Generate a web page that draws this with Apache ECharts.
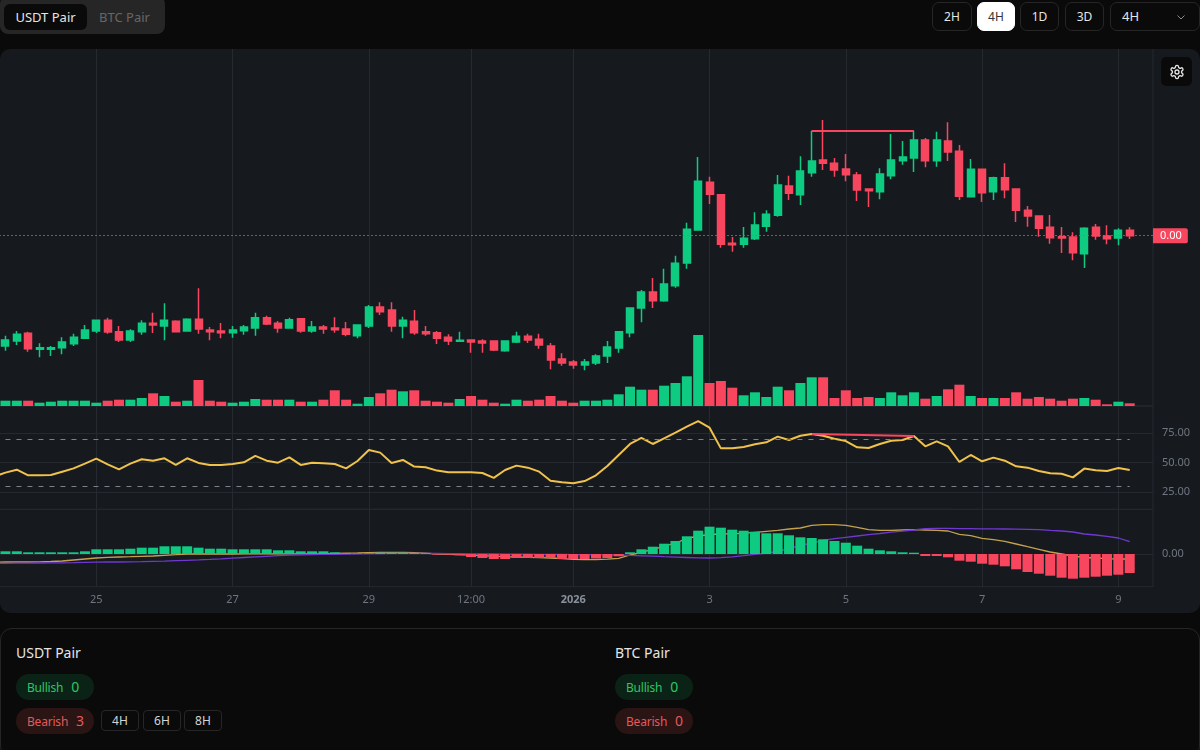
<!DOCTYPE html>
<html>
<head>
<meta charset="utf-8">
<title>Divergence chart</title>
<script src="https://cdn.jsdelivr.net/npm/echarts@6/dist/echarts.min.js"></script>
<style>
    html, body { margin: 0; padding: 0; background: #0a0a0a; width: 1200px; height: 750px; overflow: hidden; font-family: "Noto Sans", sans-serif; }
    .abs { position: absolute; box-sizing: border-box; }
    .tabs { left: 0; top: -4px; width: 165px; height: 38px; background: #262626; border-radius: 8px; }
    .tab { top: 4px; height: 26px; line-height: 26px; text-align: center; font-size: 13px; border-radius: 6px; }
    .btn { top: 2px; height: 29px; line-height: 27px; text-align: center; font-size: 12px; color: #e5e5e5; border: 1px solid #262626; border-radius: 7px; }
    #panel { left: 0; top: 49px; width: 1200px; height: 564px; background: #161a1f; border-radius: 10px; overflow: hidden; }
    /* 1px past the top and left of the panel so only the inner separators show */
    #main { left: -1px; top: -1px; width: 1201px; height: 565px; }
    .gear { left: 1161px; top: 57px; width: 31px; height: 29px; background: #0a0a0a; border-radius: 5px; display: flex; align-items: center; justify-content: center; }
    .card { left: 0; top: 628px; width: 1200px; height: 130px; border: 1px solid #262626; border-radius: 12px; }
    .title { font-size: 14px; color: #e5e5e5; top: 643px; line-height: 20px; }
    .pill { height: 26px; width: 78px; line-height: 25px; border-radius: 13px; font-size: 12px; letter-spacing: -0.2px; padding-left: 11px; white-space: nowrap; }
    .pill span { font-size: 14px; margin-left: 5px; letter-spacing: 0; }
    .up { background: #0b2316; color: #2fc465; top: 674px; }
    .down { background: #2a1414; color: #e35a5a; top: 708px; }
    .chip { top: 710px; height: 21px; width: 38px; line-height: 19px; text-align: center; font-size: 12px; color: #d4d4d4; border: 1px solid #262626; border-radius: 4px; }
</style>
</head>
<body>
<div class="abs tabs"></div>
<div class="abs tab" style="left:4px;width:83px;background:#0a0a0a;color:#e5e5e5">USDT Pair</div>
<div class="abs tab" style="left:87px;width:75px;color:#666">BTC Pair</div>

<div class="abs btn" style="left:932px;width:40px">2H</div>
<div class="abs btn" style="left:977px;width:38px;background:#fff;color:#333;border-color:#fff">4H</div>
<div class="abs btn" style="left:1020px;width:39px">1D</div>
<div class="abs btn" style="left:1065px;width:39px">3D</div>
<div class="abs btn" style="left:1110px;width:90px;text-align:left;padding-left:11px;font-size:13px">4H
    <svg style="position:absolute;left:64px;top:8px" width="12" height="12" viewBox="0 0 24 24" fill="none" stroke="#8a8a8a" stroke-width="2"><path d="M5 9l7 7 7-7"/></svg>
</div>

<div id="panel" class="abs"><div id="main" class="abs"></div></div>
<div class="abs gear">
    <svg width="16" height="16" viewBox="0 0 24 24" fill="none" stroke="#e5e5e5" stroke-width="2" stroke-linecap="round" stroke-linejoin="round"><path d="M12.22 2h-.44a2 2 0 0 0-2 2v.18a2 2 0 0 1-1 1.73l-.43.25a2 2 0 0 1-2 0l-.15-.08a2 2 0 0 0-2.73.73l-.22.38a2 2 0 0 0 .73 2.73l.15.1a2 2 0 0 1 1 1.72v.51a2 2 0 0 1-1 1.74l-.15.09a2 2 0 0 0-.73 2.73l.22.38a2 2 0 0 0 2.73.73l.15-.08a2 2 0 0 1 2 0l.43.25a2 2 0 0 1 1 1.73V20a2 2 0 0 0 2 2h.44a2 2 0 0 0 2-2v-.18a2 2 0 0 1 1-1.73l.43-.25a2 2 0 0 1 2 0l.15.08a2 2 0 0 0 2.73-.73l.22-.39a2 2 0 0 0-.73-2.73l-.15-.08a2 2 0 0 1-1-1.74v-.5a2 2 0 0 1 1-1.74l.15-.09a2 2 0 0 0 .73-2.73l-.22-.38a2 2 0 0 0-2.73-.73l-.15.08a2 2 0 0 1-2 0l-.43-.25a2 2 0 0 1-1-1.73V4a2 2 0 0 0-2-2z"/><circle cx="12" cy="12" r="3"/></svg>
</div>

<div class="abs card"></div>
<div class="abs title" style="left:16px">USDT Pair</div>
<div class="abs pill up" style="left:16px">Bullish <span>0</span></div>
<div class="abs pill down" style="left:16px">Bearish <span>3</span></div>
<div class="abs chip" style="left:101px">4H</div>
<div class="abs chip" style="left:143px">6H</div>
<div class="abs chip" style="left:184px">8H</div>
<div class="abs title" style="left:615px">BTC Pair</div>
<div class="abs pill up" style="left:615px">Bullish <span>0</span></div>
<div class="abs pill down" style="left:615px">Bearish <span>0</span></div>

<script>
var upColor = '#0ecb81'
var downColor = '#f9465f'
var gridColor = '#252930'

var opens = [
    60, 65, 72.7, 56.7, 56.7, 58.3, 62.3, 67.7, 75, 85.7,
    74.3, 66, 74.3, 82.7, 80, 84.7, 75, 86.7, 76, 75,
    73.3, 75.3, 78, 88.3, 82.7, 78, 87.3, 75, 79, 78,
    77, 70.3, 80, 99, 96, 80, 84.7, 74.3, 73.3, 68.7,
    64.7, 66, 65, 65, 55.3, 64, 69.7, 66.7, 60, 47,
    44, 41, 43, 50, 58, 73.3, 98, 114, 105.3, 120.3,
    143, 176, 223.7, 211.3, 162.7, 161.7, 167.3, 179.7, 190.7, 220,
    211.3, 233.3, 246, 242.7, 237, 231, 217, 214.3, 230.3, 245.3,
    248, 266, 245.3, 265, 254.7, 209.3, 236.7, 214.3, 228.3, 217,
    195.7, 190, 178.7, 169.3, 169, 152.3, 178.7, 170, 168, 175.7
]
var closes = [
    66, 71.7, 57.3, 58.3, 58.3, 64, 68.7, 76, 85.7, 74,
    66, 75, 82.7, 81, 85.7, 74.3, 86.7, 77, 74.3, 73.3,
    76, 79, 88.3, 82, 78, 86.3, 75, 79, 77, 76.3,
    71.7, 81, 99, 94.3, 80, 85.7, 73.3, 72.3, 67.7, 65,
    65.7, 64, 63, 56, 65, 69.7, 66, 61, 46, 43,
    41, 44, 50, 59, 74.3, 98, 114, 105.3, 122, 142.7,
    176.7, 224.7, 211.7, 161.7, 161.3, 167.7, 181, 191.7, 221, 212.7,
    235, 245, 242.7, 236, 231.3, 216, 215.3, 232, 246, 249,
    266, 245.3, 266, 254, 209.7, 236.7, 213.3, 228.3, 216.3, 195.7,
    190, 177.7, 168.3, 168, 153.3, 177.7, 170, 167.3, 175.7, 170.3
]
var lows = [
    55.3, 61, 54.3, 48.7, 50, 51.7, 60, 67, 73, 72.3,
    64, 64, 71.3, 73, 65.7, 73.7, 74.7, 72.3, 65.7, 67.7,
    68.3, 71.3, 70.3, 81, 73.3, 77.7, 73.3, 73.3, 72.3, 73.3,
    69.7, 67.7, 78, 91, 74.3, 67.7, 71.3, 70.3, 62, 61,
    64, 53.3, 53.3, 55, 54.3, 63, 63, 57.3, 36.7, 40.3,
    37.3, 35.7, 41, 43, 53.3, 68.7, 83.7, 98, 104.3, 118.3,
    137.3, 176, 202, 158.3, 154.3, 158.3, 166, 174.3, 189.3, 206,
    201, 229.3, 236, 229.3, 224.7, 205, 199, 206.7, 226.7, 241.3,
    234, 238.7, 239.3, 245, 206, 209.3, 204, 206, 207.7, 184,
    179.3, 169.3, 162.3, 153, 145.7, 138, 166.3, 161.7, 160.7, 167
]
var highs = [
    70.3, 75, 74.3, 62.7, 60, 68.7, 72.3, 81, 85.7, 88.3,
    80, 76.7, 85.7, 93.3, 102.7, 85.7, 87.7, 117.7, 79, 83,
    80, 81, 93.3, 90.3, 85, 88.3, 87.7, 85, 81, 88.7,
    84, 81, 101, 103.7, 103.7, 89.3, 96, 80, 75, 71.7,
    74.3, 66.7, 66.7, 65, 65, 74.3, 72.3, 72.3, 63, 52.7,
    46, 47, 51.7, 65, 74.3, 98, 116, 128, 137.3, 150.3,
    183.3, 249, 229.3, 211.3, 169, 179, 193.7, 195.7, 231, 230.3,
    249.7, 275.3, 286, 248, 252, 234, 217, 237.7, 272, 265,
    275.3, 268, 274.3, 283.7, 261, 247, 236.7, 229.3, 242.7, 217,
    200, 190, 191, 179, 173.7, 178.7, 182, 180.7, 177.7, 178.7
]
var volumes = [
    5.3, 5.3, 5.3, 3.3, 4.3, 5.3, 5.3, 5.3, 3.3, 5.3,
    6.3, 6.3, 8, 12.7, 10, 4.3, 5.3, 26, 5.3, 4.3,
    3.3, 4.3, 7, 6.3, 6.3, 6.3, 4.3, 4.3, 6.3, 15.7,
    6.3, 2.3, 9, 12.7, 16.3, 14.7, 15.7, 5.3, 4.3, 3.3,
    7, 10, 6.3, 3.3, 2.3, 6.3, 5.3, 6.3, 10, 5.3,
    3.3, 5.3, 5.3, 6.3, 11.7, 19.3, 16.3, 16.3, 20.3, 23,
    29.7, 71, 23, 25, 18.3, 10.7, 13.7, 9, 19.3, 15.7,
    23, 28.7, 28.7, 8, 15.7, 8, 9, 8, 13.7, 10.7,
    13.7, 7.3, 10, 16.7, 21.3, 10, 8, 8, 8, 13.7,
    7.3, 9, 7.3, 5.3, 7.3, 8, 6.3, 1.7, 4.3, 2.7
]
var rsiValues = [
    41.6, 44.1, 39.3, 39.3, 39.6, 42.4, 45.2, 49.2, 53.4, 48.6,
    44.4, 49.2, 52.9, 51.7, 53.7, 48.1, 53.7, 49.8, 48.1, 48.1,
    48.9, 50.3, 55.7, 51.7, 50, 54.5, 48.1, 50, 49.5, 48.9,
    45.2, 51.4, 60.7, 58.5, 49.8, 52.3, 46.7, 46.1, 43.3, 41.9,
    41.9, 41.9, 41.3, 37.1, 43.8, 47.5, 45.8, 42.4, 34.8, 33.4,
    32.6, 34.5, 39.3, 47.2, 56.5, 65.8, 70.9, 65.8, 70.6, 75.4,
    80.4, 85.2, 79.6, 62.1, 62.1, 63.3, 65.5, 67.2, 72, 69.2,
    72.8, 74.2, 72.8, 70.3, 68.3, 63, 62.4, 65.8, 68.6, 69.2,
    72.5, 63.8, 68, 63.8, 50.6, 56.5, 51.2, 54.3, 51.7, 46.9,
    45.8, 43, 41, 40.7, 37.6, 45, 43.6, 43, 45.5, 43.8
]
var macdHist = [
    2.7, 2.7, 1.7, 1.7, 1.7, 1.7, 1.7, 2.7, 4.7, 4.7,
    4.7, 5.3, 6.3, 6.3, 7.7, 7.7, 7.7, 6.3, 5.3, 5.3,
    4.7, 4.7, 4.7, 4.7, 3.7, 3.7, 2.7, 2.7, 2.7, 1.7,
    1, 0.7, 0.7, 1.3, 1.3, 1.3, 1, 1, -0.5, -0.7,
    -1.3, -3, -4, -5, -5, -4, -4, -4, -4, -5,
    -5, -5, -4.5, -4, -2.3, 1.7, 4.7, 7.3, 10.3, 13,
    17.7, 23.3, 27.3, 26.3, 24.3, 23.3, 22.3, 20.7, 20.7, 18.7,
    16.7, 16, 14.7, 13, 11.3, 8.3, 5.3, 3.7, 2.7, 1.7,
    1.3, -2, -2, -3.3, -6.7, -7.7, -9.7, -10.7, -12.3, -15.3,
    -18, -19.7, -21.7, -23.7, -24.7, -23.7, -22.7, -21.7, -20.7, -19
]
var macdLine = [
    -8, -8, -8, -7.8, -7.5, -7, -6, -5, -4, -3.4,
    -3, -2.7, -2.3, -2, -1.3, -0.7, 0, 0, 0, 0,
    0, 0.1, 0.1, 0.1, 0.1, 0.2, 0.2, 0.2, 0.2, 0.5,
    0.8, 1, 1.3, 1.5, 1.6, 1.7, 1.4, 0.8, 0, -0.3,
    -0.7, -1.2, -1.7, -2.2, -2.7, -3, -3.3, -3.6, -4, -4.7,
    -5.3, -5.6, -5.7, -5.2, -4.3, -1, 1.7, 4.7, 7.7, 11,
    15.3, 18, 19.5, 20, 20.3, 20.7, 21.7, 22.7, 23.7, 25,
    26, 28.7, 29.3, 29.3, 28.7, 26.7, 24.3, 23.7, 23.7, 24,
    24.3, 24, 23.7, 23, 19.7, 18.3, 15.7, 14.3, 12.7, 10,
    7.3, 4.7, 2, 0, -2, -3.5, -4, -4.7, -5, -5
]
var signalLine = [
    -9.3, -9.2, -9.1, -9, -8.9, -8.8, -8.6, -8.3, -8.1, -8,
    -8, -7.9, -7.7, -7.4, -7.1, -6.7, -6.3, -5.9, -5.4, -4.8,
    -4.1, -3.5, -2.9, -2.3, -1.7, -1.2, -0.8, -0.6, -0.4, -0.3,
    -0.1, 0.1, 0.3, 0.5, 0.6, 0.7, 0.7, 0.6, 0.5, 0.4,
    0.3, 0.2, 0.1, 0, -0.1, -0.2, -0.2, -0.3, -0.4, -0.5,
    -0.6, -0.7, -0.8, -0.9, -1, -1.4, -1.8, -2.2, -2.7, -3.1,
    -3.5, -3.9, -4, -3.6, -2.8, -1.7, -0.4, 0.8, 2.5, 5.5,
    8.5, 11, 13.5, 15.3, 16.7, 18, 19.3, 20.5, 21.8, 22.8,
    24, 25.3, 25.7, 25.6, 25.4, 25.3, 25.2, 25.1, 25, 24.9,
    24.7, 24.4, 23.6, 23, 22, 20, 19, 17.7, 16, 12.3
]
// the indicator lines come in from one bar before the first candle
var rsiBefore = 38.2
var macdBefore = -8.2
var signalBefore = -9.4

var tickIdx = [8, 20, 32, 41, 50, 62, 74, 86, 98]
var tickLabels = ['25', '27', '29', '12:00', '2026', '3', '5', '7', '9']
var rsiTicks = [25, 50, 75]
var rsiBands = [70, 30]
// divergence between two swing highs
var divFrom = 71
var divTo = 80
var divPrice = 275
var lastLabel = '0.00'

var candleData = []
var volumeData = []
var rsiData = [[-1, rsiBefore]]
var histData = []
var macdData = [[-1, macdBefore]]
var signalData = [[-1, signalBefore]]
for (var i = 0; i < opens.length; i++) {
    candleData.push([i, opens[i], closes[i], lows[i], highs[i]])
    volumeData.push({ value: [i, volumes[i]], itemStyle: { color: closes[i] >= opens[i] ? upColor : downColor } })
    rsiData.push([i, rsiValues[i]])
    histData.push({ value: [i, macdHist[i]], itemStyle: { color: macdHist[i] >= 0 ? upColor : downColor } })
    macdData.push([i, macdLine[i]])
    signalData.push([i, signalLine[i]])
}

var xMin = -0.568
var xMax = 101.05

function xAxisFor(gridIndex, withLabels) {
    return {
        type: 'value',
        gridIndex: gridIndex,
        min: xMin,
        max: xMax,
        axisLine: { show: false },
        axisTick: { show: false, customValues: tickIdx },
        splitLine: { show: true, lineStyle: { color: gridColor, width: 1 } },
        axisLabel: {
            show: withLabels,
            customValues: tickIdx,
            margin: 8,
            color: '#6f7680',
            fontSize: 11,
            fontFamily: 'Noto Sans',
            formatter: function (v) {
                var label = tickLabels[tickIdx.indexOf(v)]
                return label === '2026' ? '{b|' + label + '}' : label
            },
            rich: { b: { fontWeight: 'bold', color: '#8a909a', fontSize: 11, fontFamily: 'Noto Sans' } }
        }
    }
}

var chart = echarts.init(document.getElementById('main'), null, { renderer: 'canvas' })
chart.setOption({
    animation: false,
    backgroundColor: 'transparent',
    grid: [
        { left: 0, top: 0, width: 1154, height: 358, show: true, borderColor: gridColor, borderWidth: 1 },
        { left: 0, top: 358, width: 1154, height: 103.3, show: true, borderColor: gridColor, borderWidth: 1 },
        { left: 0, top: 461.3, width: 1154, height: 77.4, show: true, borderColor: gridColor, borderWidth: 1 }
    ],
    xAxis: [xAxisFor(0, false), xAxisFor(1, false), xAxisFor(2, true)],
    yAxis: [
        {
            type: 'value',
            gridIndex: 0,
            position: 'right',
            min: 0,
            max: 358,
            axisLine: { show: false },
            axisTick: { show: false },
            axisLabel: { show: false },
            splitLine: { show: false }
        },
        {
            type: 'value',
            gridIndex: 1,
            position: 'right',
            min: 10.6,
            max: 97.9,
            axisLine: { show: false },
            axisTick: { show: false, customValues: rsiTicks },
            splitLine: { show: true, lineStyle: { color: gridColor } },
            axisLabel: {
                customValues: rsiTicks,
                color: '#6f7680',
                fontSize: 11,
                fontFamily: 'Noto Sans',
                margin: 9,
                formatter: function (v) { return v.toFixed(2) }
            }
        },
        {
            type: 'value',
            gridIndex: 2,
            position: 'right',
            min: -32.7,
            max: 44.7,
            axisLine: { show: false },
            axisTick: { show: false, customValues: [0] },
            splitLine: { show: true, lineStyle: { color: gridColor } },
            axisLabel: {
                customValues: [0],
                color: '#6f7680',
                fontSize: 11,
                fontFamily: 'Noto Sans',
                margin: 9,
                formatter: function (v) { return v.toFixed(2) }
            }
        }
    ],
    series: [
        {
            name: 'Volume',
            type: 'bar',
            xAxisIndex: 0,
            yAxisIndex: 0,
            barWidth: 10,
            z: 1,
            data: volumeData
        },
        {
            name: 'Candles',
            type: 'candlestick',
            xAxisIndex: 0,
            yAxisIndex: 0,
            barWidth: 7.5,
            z: 2,
            itemStyle: {
                color: upColor,
                color0: downColor,
                borderColor: upColor,
                borderColor0: downColor,
                borderWidth: 1.5
            },
            data: candleData,
            markLine: {
                silent: true,
                symbol: 'none',
                lineStyle: { color: 'rgba(249,70,95,0.75)', type: [2, 2], width: 1 },
                label: {
                    show: true,
                    position: 'end',
                    distance: 0,
                    formatter: lastLabel,
                    color: '#fff',
                    fontSize: 11,
                    fontFamily: 'Noto Sans',
                    backgroundColor: downColor,
                    padding: [2, 6, 2, 7],
                    borderRadius: [0, 2, 2, 0]
                },
                data: [[
                    { coord: [xMin, closes[closes.length - 1]] },
                    { coord: [xMax, closes[closes.length - 1]] }
                ]]
            }
        },
        {
            name: 'Divergence',
            type: 'line',
            xAxisIndex: 0,
            yAxisIndex: 0,
            symbol: 'none',
            z: 3,
            lineStyle: { color: downColor, width: 2 },
            data: [[divFrom, divPrice], [divTo, divPrice]]
        },
        {
            name: 'RSI',
            type: 'line',
            xAxisIndex: 1,
            yAxisIndex: 1,
            symbol: 'none',
            z: 3,
            lineStyle: { color: '#f0c24b', width: 2 },
            data: rsiData,
            markLine: {
                silent: true,
                symbol: 'none',
                label: { show: false },
                lineStyle: { color: '#7d8289', type: [5, 6], width: 1 },
                data: [
                    [{ coord: [0, rsiBands[0]] }, { coord: [99, rsiBands[0]] }],
                    [{ coord: [0, rsiBands[1]] }, { coord: [99, rsiBands[1]] }]
                ]
            }
        },
        {
            name: 'RSI divergence',
            type: 'line',
            xAxisIndex: 1,
            yAxisIndex: 1,
            symbol: 'none',
            z: 4,
            lineStyle: { color: downColor, width: 2 },
            data: [[divFrom, rsiValues[divFrom]], [divTo, rsiValues[divTo]]]
        },
        {
            name: 'MACD',
            type: 'line',
            xAxisIndex: 2,
            yAxisIndex: 2,
            symbol: 'none',
            z: 1,
            lineStyle: { color: '#c4a24c', width: 1.3 },
            data: macdData
        },
        {
            name: 'Signal',
            type: 'line',
            xAxisIndex: 2,
            yAxisIndex: 2,
            symbol: 'none',
            z: 1,
            lineStyle: { color: '#6f38d0', width: 1.3 },
            data: signalData
        },
        {
            name: 'Histogram',
            type: 'bar',
            xAxisIndex: 2,
            yAxisIndex: 2,
            barWidth: 10,
            z: 2,
            data: histData
        }
    ]
})
</script>
</body>
</html>
